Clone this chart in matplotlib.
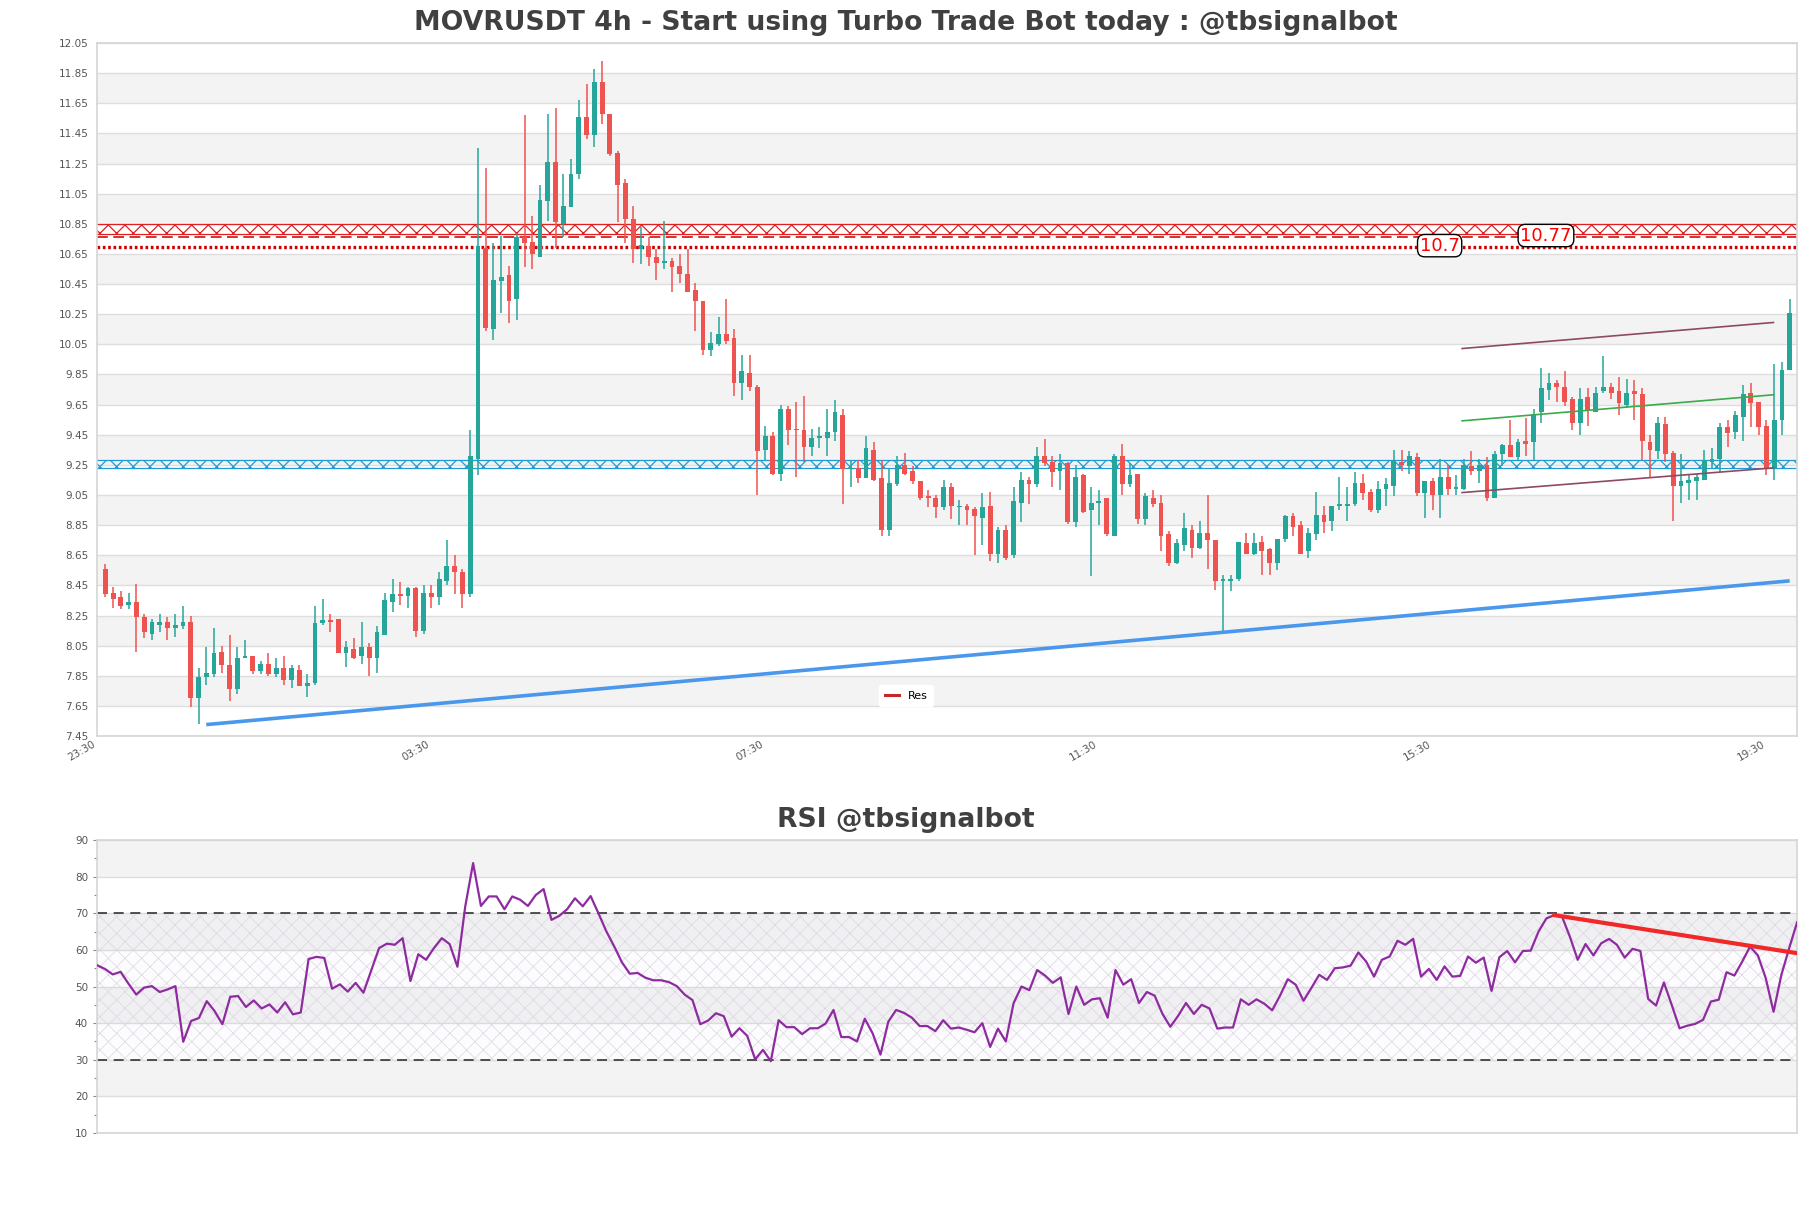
import numpy as np
import matplotlib
matplotlib.use("Agg")
import matplotlib.pyplot as plt
from matplotlib.lines import Line2D

# candle data (index 0 = first candle)
opens = [8.56, 8.40, 8.37, 8.32, 8.34, 8.24, 8.13, 8.19, 8.21, 8.17, 8.18, 8.21, 7.70, 7.84, 7.86, 8.01,
         7.92, 7.76, 7.97, 7.98, 7.88, 7.93, 7.86, 7.90, 7.82, 7.89, 7.78, 7.80, 8.20, 8.22, 8.23, 8.00,
         8.03, 7.98, 8.04, 7.97, 8.12, 8.34, 8.39, 8.38, 8.43, 8.15, 8.40, 8.37, 8.48, 8.58, 8.54, 8.39,
         9.29, 10.69, 10.15, 10.47, 10.51, 10.35, 10.76, 10.73, 10.63, 11.00, 11.26, 10.85, 10.96, 11.18,
         11.56, 11.44, 11.79, 11.58, 11.32, 11.12, 10.88, 10.68, 10.70, 10.63, 10.59, 10.60, 10.57, 10.52,
         10.41, 10.34, 10.01, 10.05, 10.12, 10.09, 9.79, 9.86, 9.77, 9.35, 9.44, 9.19, 9.62, 9.49, 9.48,
         9.37, 9.43, 9.43, 9.47, 9.58, 9.22, 9.23, 9.16, 9.35, 9.16, 8.82, 9.12, 9.25, 9.21, 9.14, 9.04,
         9.03, 8.97, 9.10, 8.97, 8.98, 8.96, 8.90, 8.98, 8.66, 8.82, 8.65, 9.00, 9.15, 9.12, 9.31, 9.27,
         9.21, 9.26, 8.87, 9.18, 8.95, 9.00, 9.03, 8.78, 9.31, 9.12, 9.19, 8.89, 9.03, 9.00, 8.79, 8.60,
         8.72, 8.82, 8.70, 8.80, 8.75, 8.48, 8.48, 8.49, 8.73, 8.66, 8.74, 8.69, 8.60, 8.76, 8.91, 8.85,
         8.68, 8.79, 8.92, 8.88, 8.98, 8.98, 8.99, 9.13, 9.07, 8.95, 9.09, 9.11, 9.27, 9.24, 9.30, 9.06,
         9.14, 9.05, 9.17, 9.09, 9.09, 9.24, 9.21, 9.25, 9.03, 9.32, 9.38, 9.30, 9.41, 9.40, 9.60, 9.75,
         9.79, 9.77, 9.69, 9.53, 9.70, 9.60, 9.74, 9.77, 9.74, 9.65, 9.74, 9.72, 9.40, 9.34, 9.52, 9.33,
         9.11, 9.13, 9.14, 9.15, 9.27, 9.29, 9.50, 9.47, 9.57, 9.73, 9.67, 9.51, 9.23, 9.55, 9.88]
highs = [8.59, 8.44, 8.41, 8.40, 8.46, 8.26, 8.23, 8.26, 8.24, 8.26, 8.31, 8.25, 7.90, 8.04, 8.17, 8.05,
         8.12, 8.04, 8.09, 7.98, 7.95, 8.00, 7.97, 7.98, 7.92, 7.92, 7.86, 8.31, 8.36, 8.26, 8.23, 8.08,
         8.10, 8.21, 8.07, 8.18, 8.40, 8.49, 8.47, 8.44, 8.44, 8.45, 8.45, 8.54, 8.75, 8.65, 8.56, 9.48,
         11.35, 11.22, 10.72, 10.77, 10.57, 10.79, 11.57, 10.90, 11.11, 11.58, 11.62, 11.18, 11.28, 11.67,
         11.78, 11.88, 11.93, 11.58, 11.33, 11.15, 10.97, 10.83, 10.76, 10.68, 10.87, 10.62, 10.65, 10.68,
         10.46, 10.34, 10.13, 10.23, 10.35, 10.15, 9.98, 9.98, 9.78, 9.51, 9.47, 9.65, 9.64, 9.67, 9.71,
         9.49, 9.50, 9.62, 9.68, 9.62, 9.28, 9.28, 9.44, 9.40, 9.28, 9.23, 9.31, 9.33, 9.24, 9.14, 9.08,
         9.05, 9.15, 9.13, 9.02, 8.99, 8.97, 9.06, 9.07, 8.84, 8.85, 9.10, 9.20, 9.17, 9.37, 9.42, 9.31,
         9.32, 9.27, 9.25, 9.19, 9.10, 9.08, 9.03, 9.32, 9.39, 9.26, 9.19, 9.06, 9.08, 9.05, 8.81, 8.76,
         8.93, 8.85, 8.88, 9.05, 8.75, 8.52, 8.52, 8.74, 8.80, 8.80, 8.78, 8.70, 8.76, 8.92, 8.93, 8.88,
         8.83, 9.07, 8.98, 8.98, 9.17, 9.10, 9.20, 9.19, 9.09, 9.14, 9.16, 9.35, 9.35, 9.34, 9.33, 9.14,
         9.16, 9.29, 9.25, 9.18, 9.29, 9.34, 9.29, 9.30, 9.34, 9.39, 9.55, 9.42, 9.56, 9.62, 9.89, 9.86,
         9.81, 9.87, 9.70, 9.76, 9.76, 9.77, 9.97, 9.79, 9.83, 9.82, 9.81, 9.76, 9.45, 9.57, 9.57, 9.34,
         9.32, 9.19, 9.19, 9.35, 9.36, 9.53, 9.55, 9.61, 9.78, 9.79, 9.67, 9.55, 9.92, 9.93, 10.35]
lows = [8.37, 8.30, 8.29, 8.29, 8.01, 8.10, 8.09, 8.14, 8.09, 8.11, 8.16, 7.64, 7.53, 7.79, 7.84, 7.87,
        7.68, 7.73, 7.97, 7.86, 7.86, 7.85, 7.84, 7.79, 7.77, 7.78, 7.71, 7.79, 8.19, 8.14, 8.00, 7.91,
        7.96, 7.93, 7.85, 7.87, 8.12, 8.27, 8.32, 8.30, 8.11, 8.13, 8.30, 8.32, 8.45, 8.39, 8.30, 8.37,
        9.18, 10.14, 10.08, 10.26, 10.19, 10.21, 10.56, 10.55, 10.63, 10.87, 10.69, 10.76, 10.96, 11.15,
        11.41, 11.36, 11.51, 11.30, 10.86, 10.72, 10.59, 10.58, 10.57, 10.48, 10.55, 10.40, 10.46, 10.40,
        10.14, 9.98, 9.97, 10.04, 10.05, 9.71, 9.68, 9.74, 9.05, 9.28, 9.18, 9.14, 9.38, 9.17, 9.27,
        9.31, 9.36, 9.31, 9.41, 8.99, 9.10, 9.13, 9.16, 9.14, 8.78, 8.78, 9.11, 9.18, 9.12, 9.02, 8.97,
        8.90, 8.95, 8.89, 8.85, 8.85, 8.65, 8.72, 8.61, 8.60, 8.62, 8.63, 8.87, 8.99, 9.10, 9.24, 9.10,
        9.08, 8.86, 8.84, 8.93, 8.51, 8.85, 8.78, 8.78, 9.05, 9.10, 8.86, 8.85, 8.97, 8.68, 8.58, 8.59,
        8.68, 8.63, 8.69, 8.56, 8.42, 8.15, 8.41, 8.48, 8.66, 8.65, 8.52, 8.52, 8.55, 8.74, 8.78, 8.66,
        8.63, 8.75, 8.80, 8.81, 8.95, 8.88, 8.98, 9.02, 8.94, 8.93, 8.98, 9.04, 9.21, 9.19, 9.04, 8.90,
        8.95, 8.90, 9.05, 9.05, 9.08, 9.18, 9.13, 9.01, 9.03, 9.24, 9.30, 9.28, 9.31, 9.28, 9.53, 9.68,
        9.67, 9.64, 9.48, 9.45, 9.51, 9.60, 9.73, 9.69, 9.58, 9.63, 9.55, 9.28, 9.17, 9.29, 9.27, 8.88,
        9.00, 9.02, 9.02, 9.15, 9.23, 9.20, 9.37, 9.42, 9.41, 9.50, 9.45, 9.18, 9.15, 9.45, 9.88]
closes = [8.39, 8.36, 8.31, 8.34, 8.24, 8.14, 8.21, 8.21, 8.17, 8.19, 8.21, 7.70, 7.84, 7.87, 8.00, 7.92,
          7.76, 7.97, 7.98, 7.88, 7.93, 7.86, 7.90, 7.82, 7.90, 7.78, 7.80, 8.20, 8.22, 8.21, 8.00, 8.04,
          7.97, 8.04, 7.97, 8.14, 8.35, 8.39, 8.38, 8.43, 8.15, 8.40, 8.37, 8.49, 8.58, 8.54, 8.39, 9.31,
          10.70, 10.16, 10.48, 10.50, 10.34, 10.76, 10.72, 10.65, 11.01, 11.26, 10.86, 10.97, 11.18, 11.56,
          11.44, 11.79, 11.58, 11.31, 11.11, 10.88, 10.68, 10.71, 10.63, 10.59, 10.60, 10.56, 10.52, 10.40,
          10.34, 10.01, 10.06, 10.12, 10.07, 9.79, 9.87, 9.77, 9.34, 9.44, 9.19, 9.62, 9.48, 9.48, 9.37,
          9.43, 9.44, 9.47, 9.60, 9.22, 9.23, 9.16, 9.36, 9.15, 8.82, 9.13, 9.25, 9.19, 9.14, 9.03, 9.03,
          8.97, 9.10, 8.98, 8.98, 8.95, 8.91, 8.97, 8.66, 8.82, 8.63, 9.01, 9.15, 9.12, 9.31, 9.26, 9.20,
          9.26, 8.87, 9.17, 8.94, 9.00, 9.01, 8.79, 9.31, 9.12, 9.18, 8.89, 9.04, 8.99, 8.78, 8.60, 8.73,
          8.83, 8.70, 8.80, 8.75, 8.48, 8.49, 8.49, 8.74, 8.66, 8.73, 8.68, 8.60, 8.76, 8.91, 8.84, 8.66,
          8.80, 8.92, 8.87, 8.98, 8.98, 8.99, 9.13, 9.06, 8.95, 9.09, 9.12, 9.28, 9.25, 9.31, 9.06, 9.14,
          9.05, 9.17, 9.09, 9.10, 9.25, 9.21, 9.25, 9.03, 9.32, 9.38, 9.30, 9.40, 9.39, 9.59, 9.76, 9.79,
          9.77, 9.67, 9.53, 9.69, 9.61, 9.73, 9.77, 9.73, 9.66, 9.73, 9.72, 9.41, 9.35, 9.53, 9.32, 9.11,
          9.14, 9.15, 9.17, 9.28, 9.29, 9.50, 9.46, 9.58, 9.72, 9.66, 9.50, 9.23, 9.55, 9.88, 10.26]

rsi = [55.8, 54.8, 53.3, 54.0, 50.8, 47.8, 49.7, 50.1, 48.5, 49.2, 50.1, 34.9, 40.6, 41.4, 46.0, 43.3,
       39.7, 47.2, 47.4, 44.4, 46.2, 44.0, 45.1, 42.9, 45.7, 42.4, 42.9, 57.5, 58.1, 57.8, 49.4, 50.6,
       48.6, 51.0, 48.3, 54.4, 60.5, 61.7, 61.4, 63.2, 51.5, 58.8, 57.3, 60.5, 63.2, 61.6, 55.4, 71.9,
       83.7, 72.0, 74.6, 74.6, 71.1, 74.6, 73.7, 72.0, 75.0, 76.6, 68.2, 69.3, 71.1, 74.1, 71.9, 74.7,
       70.0, 65.1, 61.0, 56.6, 53.5, 53.7, 52.4, 51.7, 51.7, 51.2, 50.1, 47.8, 46.3, 39.7, 40.7, 42.7,
       41.9, 36.3, 38.6, 36.5, 30.1, 32.7, 29.6, 40.8, 38.9, 38.9, 37.0, 38.6, 38.6, 39.9, 43.6, 36.2,
       36.2, 35.0, 41.2, 37.2, 31.4, 40.4, 43.6, 42.8, 41.5, 39.2, 39.2, 37.8, 40.8, 38.5, 38.8, 38.2,
       37.5, 40.0, 33.5, 38.5, 35.0, 45.5, 50.0, 49.0, 54.5, 53.0, 51.0, 52.5, 42.5, 50.0, 45.0, 46.5,
       46.8, 41.5, 54.5, 50.5, 52.0, 45.5, 48.5, 47.5, 42.5, 39.0, 42.0, 45.5, 42.5, 45.0, 44.0, 38.5,
       38.8, 38.8, 46.5, 45.0, 46.5, 45.3, 43.5, 47.5, 52.0, 50.5, 46.1, 49.6, 53.2, 51.8, 55.0, 55.2,
       55.7, 59.3, 56.8, 52.7, 57.3, 58.2, 62.5, 61.4, 63.0, 52.7, 54.8, 51.8, 55.5, 52.7, 52.9, 58.2,
       56.5, 57.9, 48.8, 58.0, 59.7, 56.6, 59.7, 59.8, 65.0, 68.6, 69.5, 69.1, 63.6, 57.3, 61.6, 58.5,
       61.8, 63.0, 61.4, 57.9, 60.3, 59.7, 46.6, 44.8, 51.1, 45.0, 38.6, 39.3, 39.8, 40.9, 45.9, 46.4,
       53.9, 53.0, 56.8, 60.9, 58.5, 52.3, 43.1, 53.2, 60.5, 67.5]

tick_pos = [-1, 42, 85, 128, 171, 214]
tick_labels = ["23:30", "03:30", "07:30", "11:30", "15:30", "19:30"]

# horizontal levels and zones
res_zone = (10.785, 10.85)
res_line = 10.765
res_line2 = 10.695
sup_zone = (9.228, 9.28)
res_labels = [(171.9, 10.705, "10.7"), (185.6, 10.772, "10.77")]

# trend lines (x index, price)
support_x = [13, 217]
support_y = [7.526, 8.48]
chan_x = [174.8, 214.9]
chan_upper = [10.022, 10.195]
chan_mid = [9.542, 9.715]
chan_lower = [9.066, 9.230]
rsi_trend_x = [186, 217]
rsi_trend_y = [69.5, 59.1]

GREEN = "#26a69a"
RED = "#ef5350"
GRID = "#dedede"
BAND = "#f3f3f3"
TXT = "#555555"

plt.rcParams['font.family'] = ['DejaVu Sans']

fig = plt.figure(figsize=(18.11, 12.08), dpi=100)
ax = fig.add_axes([0.0536, 0.3907, 0.9387, 0.5737])
ax2 = fig.add_axes([0.0536, 0.0621, 0.9387, 0.2425])

# ---------- price panel ----------
o = np.array(opens); h = np.array(highs); l = np.array(lows); c = np.array(closes)
x = np.arange(len(o))
up = c >= o
cols = np.where(up, GREEN, RED)

ymin, ymax = 7.45, 12.05
for b in np.arange(7.65, 12.0, 0.4):
    ax.axhspan(b, b + 0.2, color=BAND, lw=0, zorder=0)
ax.set_yticks(np.round(np.arange(ymin, ymax + 0.01, 0.2), 2))
ax.yaxis.set_major_formatter(plt.FormatStrFormatter('%.2f'))
ax.grid(axis='y', color=GRID, lw=1, zorder=0.5)
ax.set_axisbelow(True)

ax.vlines(x, l, h, colors=cols, lw=1.1, zorder=3)
body = np.maximum(np.abs(c - o), 0.008)
ax.bar(x, body, bottom=np.minimum(o, c), width=0.62, color=cols, lw=0, zorder=4)

xx = np.array([-5, 225])
plt.rcParams['hatch.linewidth'] = 0.9
ax.fill_between(xx, res_zone[0], res_zone[1], facecolor='none', edgecolor='#e02020',
                hatch='xx', lw=0.9, zorder=2)
ax.axhline(res_line, color='#d62020', lw=1.3, dashes=(6, 3), zorder=2)
ax.axhline(res_line2, color='#cc0000', lw=2.4, dashes=(0.8, 0.8), zorder=2)
ax.fill_between(xx, sup_zone[0], sup_zone[1], facecolor='none', edgecolor='#1e9bd7',
                hatch='xx', lw=0.9, zorder=2)

ax.plot(support_x, support_y, color='#4a98ec', lw=2.6, solid_capstyle='butt', zorder=5)
ax.plot(chan_x, chan_upper, color='#8e4a63', lw=1.2, zorder=5)
ax.plot(chan_x, chan_mid, color='#3daa4a', lw=1.2, zorder=5)
ax.plot(chan_x, chan_lower, color='#8e4a63', lw=1.2, zorder=5)

for lx, ly, lt in res_labels:
    ax.text(lx, ly, lt, color='red', fontsize=13, ha='center', va='center', zorder=6,
            bbox=dict(boxstyle='round,pad=0.12,rounding_size=0.4', fc='white', ec='black', lw=1))

leg_handle = Line2D([], [], color='#c62828', lw=2.2, label='Res')
ax.legend(handles=[leg_handle], loc='lower center', bbox_to_anchor=(0.476, 0.035),
          fontsize=8, frameon=True, facecolor='white', edgecolor='white', framealpha=1,
          handlelength=1.3, borderpad=0.5)

ax.set_xlim(-1.07, 217.95)
ax.set_ylim(ymin, ymax)
ax.set_xticks(tick_pos)
ax.set_xticklabels(tick_labels, rotation=30, ha='right', fontsize=7.5, color=TXT)
ax.tick_params(axis='y', labelsize=7.5, labelcolor=TXT, length=0, pad=6)
ax.tick_params(axis='x', length=0, pad=2)
for s in ax.spines.values():
    s.set_color('#d5d5d5')
    s.set_linewidth(1.2)

# ---------- RSI panel ----------
for b in [20, 40, 60, 80]:
    ax2.axhspan(b, b + 10, color=BAND, lw=0, zorder=0)
ax2.grid(axis='y', color=GRID, lw=1, zorder=0.5)
ax2.set_axisbelow(True)
rx = np.arange(len(rsi))
plt.rcParams['hatch.linewidth'] = 0.5
ax2.fill_between([-5, 225], 30, 70, facecolor=(0.55, 0.3, 0.65, 0.02), edgecolor='#dcd6e2',
                 hatch='xx', lw=0, zorder=1)
ax2.axhline(70, color='#333333', lw=1.2, dashes=(6, 4), zorder=2)
ax2.axhline(30, color='#333333', lw=1.2, dashes=(6, 4), zorder=2)
ax2.plot(rx, rsi, color='#8e2ba0', lw=1.6, zorder=3)
ax2.plot(rsi_trend_x, rsi_trend_y, color='#f02828', lw=3, zorder=4)

ax2.set_xlim(0, len(rsi) - 1)
ax2.set_ylim(10, 90)
ax2.set_yticks(range(10, 91, 10))
ax2.set_yticks(range(15, 90, 10), minor=True)
ax2.set_xticks([])
ax2.tick_params(axis='y', which='both', labelsize=7.5, labelcolor=TXT, color='#888888',
                length=3, width=0.8)
ax2.tick_params(axis='y', which='minor', length=2)
for s in ax2.spines.values():
    s.set_color('#d5d5d5')
    s.set_linewidth(1.2)

fig.text(0.5, 1 - 23 / 1208, "MOVRUSDT 4h - Start using Turbo Trade Bot today : @tbsignalbot",
         ha='center', va='center', fontsize=19.2, fontweight='bold', color='#404040')
fig.text(0.5, 1 - 820 / 1208, "RSI @tbsignalbot", ha='center', va='center',
         fontsize=19.2, fontweight='bold', color='#404040')

fig.savefig("out.png", dpi=100)
